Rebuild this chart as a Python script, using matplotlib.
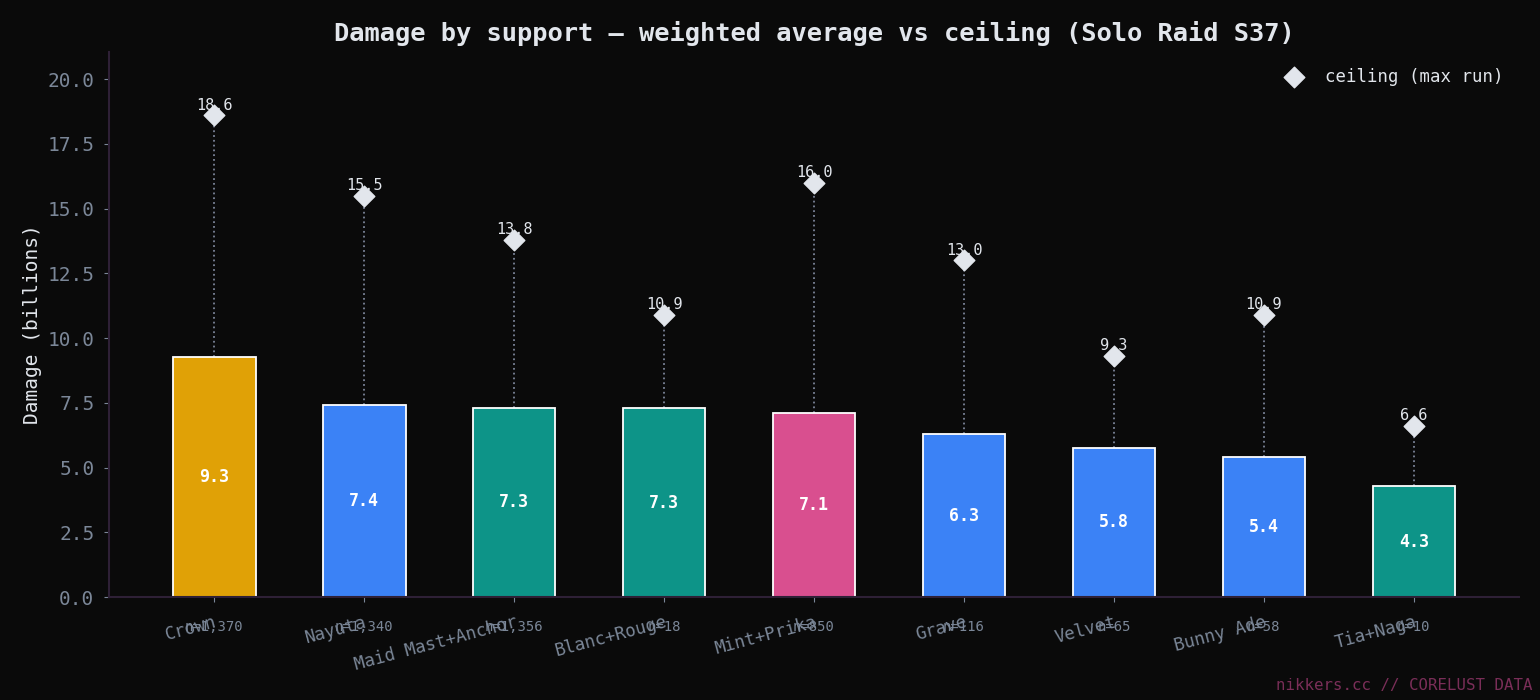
import numpy as np
import matplotlib.pyplot as plt
from matplotlib import transforms

## data
supports = ["Crown", "Nayuta", "Maid Mast+Anchor", "Blanc+Rouge", "Mint+Prika",
            "Grave", "Velvet", "Bunny Ade", "Tia+Naga"]
avg_dmg = [9.27, 7.41, 7.31, 7.30, 7.10, 6.29, 5.76, 5.41, 4.27]
ceiling = [18.6, 15.5, 13.8, 10.9, 16.0, 13.0, 9.3, 10.9, 6.6]
n_runs = ["1,370", "1,340", "1,356", "18", "850", "116", "65", "58", "10"]
bar_colors = ["#e0a106", "#3b82f6", "#0d9488", "#0d9488", "#d94f8f",
              "#3b82f6", "#3b82f6", "#3b82f6", "#0d9488"]

bg = "#0a0a0a"
slate = "#7b8798"
light = "#e2e6ec"
spine_c = "#2e2036"

plt.rcParams['font.family'] = ['DejaVu Sans Mono']

fig = plt.figure(figsize=(15.4, 7), dpi=100)
fig.patch.set_facecolor(bg)
ax = fig.add_axes([0.0708, 0.1471, 0.9156, 0.7786])
ax.set_facecolor(bg)

x = np.arange(len(supports))
ax.bar(x, avg_dmg, width=0.55, color=bar_colors, edgecolor="white", linewidth=1.3, zorder=2)

# dotted stems from bar top to ceiling
ax.vlines(x, avg_dmg, ceiling, colors="#7b8498", linestyles=":", linewidth=1.3, zorder=1)

ax.scatter(x, ceiling, marker="D", s=110, color=light, edgecolor=light, zorder=4,
           label="ceiling (max run)")

for i in range(len(supports)):
    ax.text(x[i], avg_dmg[i] / 2, f"{avg_dmg[i]:.1f}", ha="center", va="center",
            color="white", fontsize=12, fontweight="bold", zorder=3)
    ax.annotate(f"{ceiling[i]:.1f}", (x[i], ceiling[i]), xytext=(0, 2),
                textcoords="offset points", ha="center", va="bottom",
                color=light, fontsize=11, zorder=3)

# n= labels under the ticks
trans = transforms.blended_transform_factory(ax.transData, ax.transAxes)
for i in range(len(supports)):
    ax.text(x[i], -0.055, f"n={n_runs[i]}", transform=trans, ha="center", va="center",
            color=slate, fontsize=10)

ax.set_xticks(x)
ax.set_xticklabels(supports, rotation=15, ha="right", rotation_mode="anchor",
                   fontsize=12.5, color=slate)
# nudge the rotated labels a little to the left
shift = transforms.ScaledTranslation(-4 / 100, 0, fig.dpi_scale_trans)
for lbl in ax.get_xticklabels():
    lbl.set_transform(lbl.get_transform() + shift)

ax.set_ylim(0, 21.05)
ax.tick_params(axis="y", labelsize=14, colors=slate, pad=7)
ax.tick_params(axis="x", colors=slate, pad=8)
ax.tick_params(axis="both", color=slate)

for s in ["top", "right"]:
    ax.spines[s].set_visible(False)
for s in ["left", "bottom"]:
    ax.spines[s].set_color(spine_c)
    ax.spines[s].set_linewidth(1.5)

ax.set_ylabel("Damage (billions)", fontsize=14, color=light, labelpad=4)
ax.set_title("Damage by support — weighted average vs ceiling (Solo Raid S37)",
             fontsize=18.3, fontweight="bold", color=light, pad=8)

leg = ax.legend(loc="upper right", frameon=False, fontsize=12.5, labelcolor=light)

fig.text(0.995, 0.01, "nikkers.cc // CORELUST DATA", ha="right", va="bottom",
         color="#7a2e58", fontsize=11.3)

fig.savefig("out.png", dpi=100, facecolor=bg)
